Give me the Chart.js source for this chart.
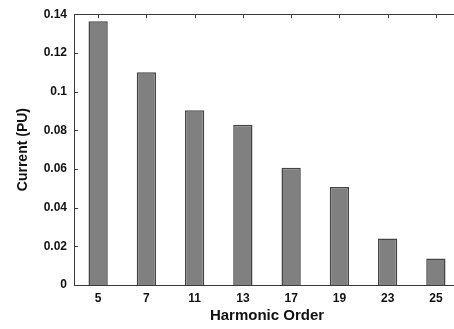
<!DOCTYPE html>
<html>
<head>
<meta charset="utf-8">
<script src="https://cdn.jsdelivr.net/npm/chart.js@4"></script>
<style>
  html, body { margin: 0; padding: 0; background: #fff; overflow: hidden; }
  #wrap { width: 462px; height: 329px; }
</style>
</head>
<body>
<div id="wrap"><canvas id="chart_harm"></canvas></div>
<script>
// data
var harmonicOrders = ['5', '7', '11', '13', '17', '19', '23', '25'];
var currentPU = [0.1364, 0.110, 0.0903, 0.0828, 0.0606, 0.0507, 0.0240, 0.0137];
var yTicks = [0, 0.02, 0.04, 0.06, 0.08, 0.1, 0.12, 0.14];

var axisColor = '#3a3a3a';
var boldFont = { family: 'Liberation Sans, Arial, sans-serif', weight: 'bold', size: 12 };

// small inward tick marks on left and top axes
var inwardTicks = {
  id: 'inwardTicks',
  afterDraw: function (chart) {
    var ctx = chart.ctx;
    var area = chart.chartArea;
    var y = chart.scales.y;
    var x = chart.scales.x;
    ctx.save();
    ctx.strokeStyle = axisColor;
    ctx.lineWidth = 1;
    ctx.beginPath();
    yTicks.forEach(function (v) {
      var py = Math.round(y.getPixelForValue(v)) + 0.5;
      ctx.moveTo(area.left, py);
      ctx.lineTo(area.left + 4, py);
    });
    harmonicOrders.forEach(function (c, i) {
      var px = Math.round(x.getPixelForValue(i)) + 0.5;
      ctx.moveTo(px, area.top);
      ctx.lineTo(px, area.top + 4);
    });
    ctx.stroke();
    ctx.restore();
  }
};

var ctx = document.getElementById('chart_harm').getContext('2d');
var myChart = new Chart(ctx, {
  type: 'bar',
  data: {
    labels: harmonicOrders,
    datasets: [{
      data: currentPU,
      backgroundColor: '#808080',
      borderColor: '#454545',
      borderWidth: 1.5,
      barPercentage: 0.4,
      categoryPercentage: 1.0
    }]
  },
  plugins: [inwardTicks],
  options: {
    responsive: true,
    maintainAspectRatio: false,
    animation: false,
    layout: { padding: { top: 13, right: 2, left: 0, bottom: 0 } },
    plugins: {
      legend: { display: false },
      tooltip: { enabled: false }
    },
    scales: {
      x: {
        position: 'bottom',
        grid: { display: false, drawTicks: false },
        border: { display: true, color: axisColor, width: 1 },
        ticks: { color: '#111', font: boldFont, padding: 6 },
        title: {
          display: true,
          text: 'Harmonic Order',
          color: '#111',
          font: { family: 'Liberation Sans, Arial, sans-serif', weight: 'bold', size: 15 },
          padding: { top: 2, bottom: 4 }
        },
        afterFit: function (s) { s.height = 44; }
      },
      xTop: {
        position: 'top',
        grid: { display: false, drawTicks: false },
        border: { display: true, color: axisColor, width: 1 },
        ticks: { display: false },
        afterFit: function (s) { s.height = 0; }
      },
      y: {
        min: 0,
        max: 0.14,
        grid: { display: false, drawTicks: false },
        border: { display: true, color: axisColor, width: 1 },
        ticks: {
          stepSize: 0.02,
          color: '#111',
          font: boldFont,
          padding: 7,
          callback: function (v) { return String(+v.toFixed(2)); }
        },
        title: {
          display: true,
          text: 'Current (PU)',
          color: '#111',
          font: { family: 'Liberation Sans, Arial, sans-serif', weight: 'bold', size: 14 },
          padding: { top: 15, bottom: 4 }
        },
        afterFit: function (s) { s.width = 74; }
      }
    }
  }
});
</script>
</body>
</html>
